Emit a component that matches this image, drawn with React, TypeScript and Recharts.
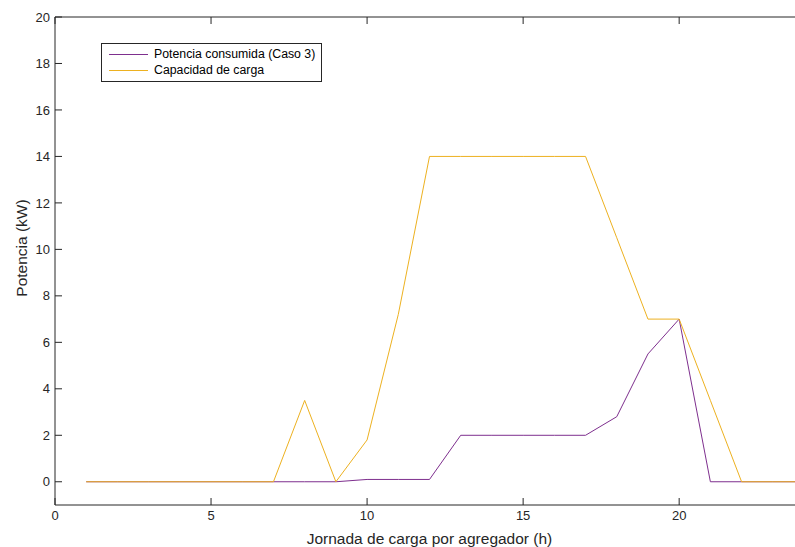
import { LineChart, Line, XAxis, YAxis } from "recharts";

const hours = [1, 2, 3, 4, 5, 6, 7, 8, 9, 10, 11, 12, 13, 14, 15, 16, 17, 18, 19, 20, 21, 22, 23, 24];
const consumida = [0, 0, 0, 0, 0, 0, 0, 0, 0, 0.1, 0.1, 0.1, 2, 2, 2, 2, 2, 2.8, 5.5, 7, 0, 0, 0, 0];
const capacidad = [0, 0, 0, 0, 0, 0, 0, 3.5, 0, 1.8, 7.2, 14, 14, 14, 14, 14, 14, 10.5, 7, 7, 3.5, 0, 0, 0];

const xTicks = [0, 5, 10, 15, 20];
const yTicks = [0, 2, 4, 6, 8, 10, 12, 14, 16, 18, 20];

const PURPLE = "#7E2F8E";
const ORANGE = "#EDB120";
const AXIS = "#262626";
const FONT = "'Liberation Sans', Arial, Helvetica, sans-serif";

const data = hours.map((h, i) => ({ h, consumida: consumida[i], capacidad: capacidad[i] }));

const series = [
  { name: "Potencia consumida (Caso 3)", color: PURPLE },
  { name: "Capacidad de carga", color: ORANGE },
];

// legend drawn as a plain overlay so recharts doesn't reserve space for it
function LegendBox() {
  return (
    <div
      style={{
        position: "absolute",
        left: 101,
        top: 43,
        width: 221,
        height: 39,
        border: "1px solid #262626",
        background: "#fff",
        fontFamily: FONT,
        fontSize: 12.3,
        color: "#000",
        boxSizing: "border-box",
        paddingTop: 2,
      }}
    >
      {series.map((s) => (
        <div key={s.name} style={{ display: "flex", alignItems: "center", height: 16 }}>
          <div style={{ width: 39, height: 1, background: s.color, marginLeft: 7, marginRight: 6 }} />
          <span>{s.name}</span>
        </div>
      ))}
    </div>
  );
}

const tickStyle = { fill: AXIS, fontSize: 13, fontFamily: FONT };

// box-edge ticks: draw the little inward mark at the position recharts hands us
const TopTick = (p: any) => <line x1={p.x} x2={p.x} y1={p.y} y2={p.y + 7} stroke={AXIS} />;
const RightTick = (p: any) => <line x1={p.x} x2={p.x - 7} y1={p.y} y2={p.y} stroke={AXIS} />;

export default function App() {
  return (
    <div style={{ position: "absolute", left: 0, top: 0, width: 795, height: 547, overflow: "hidden", background: "#fff" }}>
      <LineChart width={815} height={547} data={data} margin={{ top: 16, right: 10, bottom: 12, left: 0 }}>
        <XAxis
          dataKey="h"
          type="number"
          domain={[0, 24]}
          ticks={xTicks}
          interval={0}
          height={30}
          stroke={AXIS}
          tickSize={-7}
          tickMargin={13}
          tick={tickStyle}
          label={{
            value: "Jornada de carga por agregador (h)",
            position: "insideBottom",
            offset: -9,
            fill: AXIS,
            fontSize: 15.5,
            fontFamily: FONT,
          }}
        />
        <XAxis
          xAxisId="top"
          orientation="top"
          dataKey="h"
          type="number"
          domain={[0, 24]}
          ticks={xTicks}
          interval={0}
          height={1}
          stroke={AXIS}
          tickSize={0}
          tickMargin={0}
          tickLine={false}
          tick={TopTick}
        />
        <YAxis
          domain={[-1, 20]}
          ticks={yTicks}
          interval={0}
          width={55}
          stroke={AXIS}
          tickSize={-7}
          tickMargin={12}
          tick={tickStyle}
          label={{
            content: () => (
              <text
                x={21}
                y={248}
                transform="rotate(-90, 21, 248)"
                textAnchor="middle"
                dominantBaseline="central"
                fill={AXIS}
                fontSize={15.5}
                fontFamily={FONT}
              >
                Potencia (kW)
              </text>
            ),
          }}
        />
        <YAxis
          yAxisId="right"
          orientation="right"
          domain={[-1, 20]}
          ticks={yTicks}
          interval={0}
          width={1}
          stroke={AXIS}
          tickSize={0}
          tickMargin={0}
          tickLine={false}
          tick={RightTick}
        />
        <Line
          type="linear"
          dataKey="consumida"
          stroke={PURPLE}
          strokeWidth={1}
          dot={false}
          activeDot={false}
          isAnimationActive={false}
        />
        <Line
          type="linear"
          dataKey="capacidad"
          stroke={ORANGE}
          strokeWidth={1}
          dot={false}
          activeDot={false}
          isAnimationActive={false}
        />
      </LineChart>
      <LegendBox />
    </div>
  );
}
